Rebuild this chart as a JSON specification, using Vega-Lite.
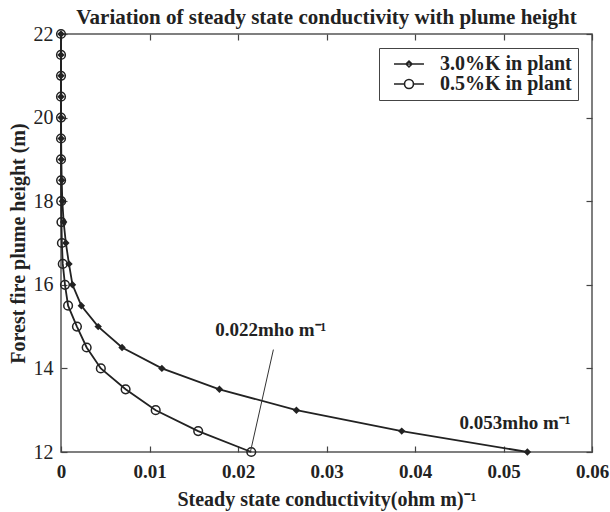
{
  "$schema": "https://vega.github.io/schema/vega-lite/v6.json",
  "autosize": "none",
  "width": 531,
  "height": 418,
  "padding": {"left": 61, "top": 34, "right": 18, "bottom": 60},
  "background": "white",
  "config": {
    "view": {"stroke": "#555", "strokeWidth": 1.5},
    "font": "Liberation Serif",
    "axis": {"grid": false, "domain": false, "tickColor": "#444", "tickSize": -6, "tickWidth": 1.2, "labelColor": "#222", "titleColor": "#222", "labelFont": "Liberation Serif", "titleFont": "Liberation Serif"},
    "legend": {"orient": "top-right", "offset": 14, "padding": 6, "strokeColor": "#444", "fillColor": "white", "labelFont": "Liberation Serif", "labelFontSize": 20, "labelFontWeight": "bold", "labelColor": "#222", "symbolSize": 324, "symbolStrokeWidth": 1.6, "symbolStrokeColor": "#222", "symbolFillColor": "transparent", "rowPadding": 0, "labelOffset": 35}
  },
  "title": {"text": "Variation of steady state conductivity with plume height", "font": "Liberation Serif", "fontSize": 21, "fontWeight": "bold", "color": "#222", "offset": -4, "anchor": "middle", "frame": "group"},
  "datasets": {
    "curves": [
      {"series": "3.0%K in plant", "h": 12.0, "c": 0.0527},
      {"series": "3.0%K in plant", "h": 12.5, "c": 0.0385},
      {"series": "3.0%K in plant", "h": 13.0, "c": 0.0266},
      {"series": "3.0%K in plant", "h": 13.5, "c": 0.0179},
      {"series": "3.0%K in plant", "h": 14.0, "c": 0.0114},
      {"series": "3.0%K in plant", "h": 14.5, "c": 0.0069},
      {"series": "3.0%K in plant", "h": 15.0, "c": 0.0042},
      {"series": "3.0%K in plant", "h": 15.5, "c": 0.0023},
      {"series": "3.0%K in plant", "h": 16.0, "c": 0.0013},
      {"series": "3.0%K in plant", "h": 16.5, "c": 0.0009},
      {"series": "3.0%K in plant", "h": 17.0, "c": 0.00055},
      {"series": "3.0%K in plant", "h": 17.5, "c": 0.0003},
      {"series": "3.0%K in plant", "h": 18.0, "c": 0.00015},
      {"series": "3.0%K in plant", "h": 18.5, "c": 0.00008},
      {"series": "3.0%K in plant", "h": 19.0, "c": 0.00004},
      {"series": "3.0%K in plant", "h": 19.5, "c": 0.00002},
      {"series": "3.0%K in plant", "h": 20.0, "c": 0.00001},
      {"series": "3.0%K in plant", "h": 20.5, "c": 0.0},
      {"series": "3.0%K in plant", "h": 21.0, "c": 0.0},
      {"series": "3.0%K in plant", "h": 21.5, "c": 0.0},
      {"series": "3.0%K in plant", "h": 22.0, "c": 0.0},
      {"series": "0.5%K in plant", "h": 12.0, "c": 0.0215},
      {"series": "0.5%K in plant", "h": 12.5, "c": 0.0155},
      {"series": "0.5%K in plant", "h": 13.0, "c": 0.0107},
      {"series": "0.5%K in plant", "h": 13.5, "c": 0.0073},
      {"series": "0.5%K in plant", "h": 14.0, "c": 0.0045},
      {"series": "0.5%K in plant", "h": 14.5, "c": 0.0029},
      {"series": "0.5%K in plant", "h": 15.0, "c": 0.0018},
      {"series": "0.5%K in plant", "h": 15.5, "c": 0.0008},
      {"series": "0.5%K in plant", "h": 16.0, "c": 0.00045},
      {"series": "0.5%K in plant", "h": 16.5, "c": 0.0002},
      {"series": "0.5%K in plant", "h": 17.0, "c": 0.0001},
      {"series": "0.5%K in plant", "h": 17.5, "c": 0.00005},
      {"series": "0.5%K in plant", "h": 18.0, "c": 0.00002},
      {"series": "0.5%K in plant", "h": 18.5, "c": 0.00001},
      {"series": "0.5%K in plant", "h": 19.0, "c": 0.0},
      {"series": "0.5%K in plant", "h": 19.5, "c": 0.0},
      {"series": "0.5%K in plant", "h": 20.0, "c": 0.0},
      {"series": "0.5%K in plant", "h": 20.5, "c": 0.0},
      {"series": "0.5%K in plant", "h": 21.0, "c": 0.0},
      {"series": "0.5%K in plant", "h": 21.5, "c": 0.0},
      {"series": "0.5%K in plant", "h": 22.0, "c": 0.0}
    ],
    "labels": [
      {"label": "0.022mho m⁻¹", "c": 0.0237, "h": 14.92},
      {"label": "0.053mho m⁻¹", "c": 0.0513, "h": 12.69}
    ],
    "leader": [
      {"c": 0.0214, "h": 12.0, "c2": 0.0240, "h2": 14.45}
    ]
  },
  "resolve": {"axis": {"x": "independent", "y": "independent"}},
  "layer": [
    {
      "data": {"name": "curves"},
      "mark": {"type": "line", "color": "#222", "strokeWidth": 1.8},
      "encoding": {
        "x": {"field": "c", "type": "quantitative", "scale": {"domain": [0, 0.06], "nice": false, "zero": false},
              "axis": {"orient": "bottom", "values": [0, 0.01, 0.02, 0.03, 0.04, 0.05, 0.06], "format": "~g", "labelFlush": false, "labelFontSize": 19, "labelFontWeight": "bold", "labelPadding": 16, "title": "Steady state conductivity(ohm m)⁻¹", "titleFontSize": 20, "titleFontWeight": "bold", "titlePadding": 8}},
        "y": {"field": "h", "type": "quantitative", "scale": {"domain": [12, 22], "nice": false, "zero": false},
              "axis": {"orient": "left", "values": [12, 14, 16, 18, 20, 22], "labelFontSize": 20, "labelFontWeight": "normal", "labelPadding": 14, "title": "Forest fire plume height (m)", "titleFontSize": 20, "titleFontWeight": "bold", "titlePadding": 5}},
        "detail": {"field": "series"},
        "order": {"field": "h", "type": "quantitative"}
      }
    },
    {
      "data": {"name": "curves"},
      "transform": [{"filter": "datum.series === '0.5%K in plant'"}],
      "mark": {"type": "point", "shape": "circle", "filled": false, "color": "#222", "strokeWidth": 1.5, "size": 75, "opacity": 1},
      "encoding": {
        "x": {"field": "c", "type": "quantitative", "axis": {"orient": "top", "values": [0, 0.01, 0.02, 0.03, 0.04, 0.05, 0.06], "labels": false, "title": null}},
        "y": {"field": "h", "type": "quantitative", "axis": {"orient": "right", "values": [12, 14, 16, 18, 20, 22], "labels": false, "title": null}}
      }
    },
    {
      "data": {"name": "curves"},
      "transform": [{"filter": "datum.series === '3.0%K in plant'"}],
      "mark": {"type": "point", "shape": "diamond", "filled": true, "color": "#222", "size": 55, "opacity": 1},
      "encoding": {
        "x": {"field": "c", "type": "quantitative", "axis": null},
        "y": {"field": "h", "type": "quantitative", "axis": null}
      }
    },
    {
      "data": {"name": "curves"},
      "mark": {"type": "point", "color": "#222", "opacity": 0},
      "encoding": {
        "x": {"field": "c", "type": "quantitative", "axis": null},
        "y": {"field": "h", "type": "quantitative", "axis": null},
        "shape": {"field": "series", "type": "nominal",
                  "scale": {"domain": ["3.0%K in plant", "0.5%K in plant"], "range": ["M-0.11,0L3.22,0M1.555,-0.33L1.885,0L1.555,0.33L1.225,0Z", "M-0.11,0L1.055,0M2.055,0L3.22,0M1.055,0A0.5,0.5,0,1,0,2.055,0A0.5,0.5,0,1,0,1.055,0Z"]},
                  "legend": {"title": null}}
      }
    },
    {
      "data": {"name": "leader"},
      "mark": {"type": "rule", "color": "#333", "strokeWidth": 1},
      "encoding": {
        "x": {"field": "c", "type": "quantitative", "axis": null},
        "y": {"field": "h", "type": "quantitative", "axis": null},
        "x2": {"field": "c2"},
        "y2": {"field": "h2"}
      }
    },
    {
      "data": {"name": "labels"},
      "mark": {"type": "text", "font": "Liberation Serif", "fontSize": 19, "fontWeight": "bold", "color": "#222", "align": "center", "baseline": "middle"},
      "encoding": {
        "x": {"field": "c", "type": "quantitative", "axis": null},
        "y": {"field": "h", "type": "quantitative", "axis": null},
        "text": {"field": "label"}
      }
    }
  ]
}
